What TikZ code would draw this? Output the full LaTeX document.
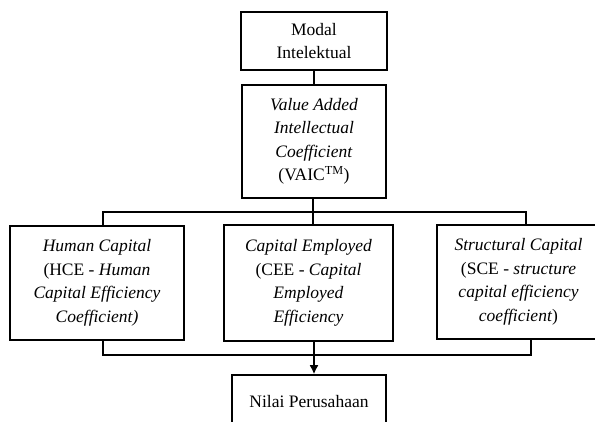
\documentclass[tikz,border=0pt]{standalone}
\usepackage{fontspec}
\setmainfont{Liberation Serif}
\usepackage{tikz}
\usetikzlibrary{shapes.geometric, arrows, arrows.meta}
\tikzstyle{box} = [rectangle, draw=black, line width=1.6pt, align=center, inner sep=0pt, font=\fontsize{17.5}{23.5}\selectfont]
\tikzstyle{line} = [line width=1.6pt]
\tikzstyle{arrow} = [line width=1.6pt,-{Latex[length=9pt,width=9pt]}]

\begin{document}
\begin{tikzpicture}[x=1pt,y=-1pt]
    \useasboundingbox (0,0) rectangle (595,421);
    \clip (0,0) rectangle (595,421);
    \node (mi) [box, minimum width=146pt, minimum height=58pt] at (314,41) {Modal\\Intelektual};
    \node (vaic) [box, minimum width=144pt, minimum height=113pt] at (314,141.5) {\textit{Value Added}\\\textit{Intellectual}\\\textit{Coefficient}\\(VAIC\textsuperscript{TM})};
    \node (hce) [box, minimum width=174pt, minimum height=114pt] at (97,283) {\textit{Human Capital}\\(HCE - \textit{Human}\\\textit{Capital Efficiency}\\\textit{Coefficient)}};
    \node (cee) [box, minimum width=169pt, minimum height=116pt] at (308.5,283) {\textit{Capital Employed}\\(CEE - \textit{Capital}\\\textit{Employed}\\\textit{Efficiency}};
    \node (sce) [box, minimum width=163pt, minimum height=114pt] at (518.5,282) {\textit{Structural Capital}\\(SCE - \textit{structure}\\\textit{capital efficiency}\\\textit{coefficient})};
    \node (nilai) [box, minimum width=154pt, minimum height=54pt] at (309,402) {Nilai Perusahaan};

    \coordinate (upL) at (103,212);
    \coordinate (upR) at (526,212);
    \coordinate (upM) at (313,212);
    \coordinate (lowL) at (103,355);
    \coordinate (lowR) at (531,355);
    \coordinate (drop) at (314,355);

    \draw [line] (mi) -- (vaic);
    \draw [line] (vaic.south -| upM) -- (upM);
    \draw [line] (upL |- hce.north) -- (upL) -- (upR) -- (upR |- sce.north);
    \draw [line] (upM) -- (upM |- cee.north);
    \draw [line] (lowL |- hce.south) -- (lowL) -- (lowR) -- (lowR |- sce.south);
    \draw [arrow] (drop |- cee.south) -- (drop |- nilai.north);
\end{tikzpicture}
\end{document}
